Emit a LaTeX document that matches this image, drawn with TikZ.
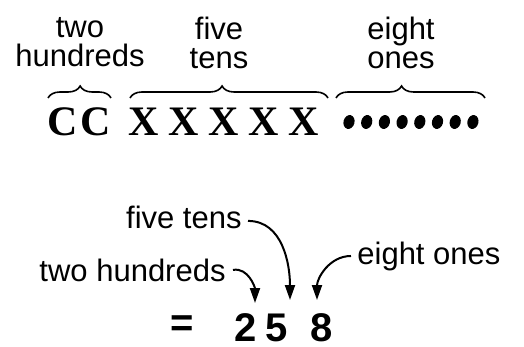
\documentclass[tikz,border=0pt]{standalone}
\usepackage{fontspec}
\setsansfont{Liberation Sans}
\newfontfamily\numfont{Liberation Serif}
\usetikzlibrary{arrows.meta,decorations.pathreplacing,shapes.geometric}

\begin{document}
\begin{tikzpicture}[x=0.5pt,y=0.5pt,
  words/.style={font=\sffamily\fontsize{15.5}{14.5}\selectfont,align=center,inner sep=0},
  numeral/.style={font=\numfont\bfseries\fontsize{21}{21}\selectfont,inner sep=0},
  dot/.style={ellipse,fill,inner sep=0,minimum width=5.5pt,minimum height=7pt,rotate=-15},
  curly/.style={decorate,decoration={brace,amplitude=6pt,aspect=#1},line width=0.8pt},
  pointer/.style={-{Triangle[length=7.5pt,width=5pt]},line width=1pt},
  digit/.style={font=\sffamily\bfseries\fontsize{20}{20}\selectfont,inner sep=0}]
\useasboundingbox (0,0) rectangle (524,-347);

% place values
\node[words,anchor=north] (hund) at (80,-17) {two\\hundreds};
\node[words,anchor=north] (tens) at (219,-17) {five\\tens};
\node[words,anchor=north] (ones) at (401,-17) {eight\\ones};

% the tally
\node[numeral] (c1) at (63,-122) {C};
\node[numeral] (c2) at (96,-122) {C};
\foreach \i/\x in {1/144,2/184,3/224,4/264,5/304}
  \node[numeral] (x\i) at (\x,-122) {X};
\foreach \i in {1,...,8}
  \node[dot] (o\i) at ({349+17.7*(\i-1)},-122) {};

\draw[curly=0.51] (48,-98) -- (111,-98);
\draw[curly=0.465] (130,-98) -- (328,-98);
\draw[curly=0.44] (336,-98) -- (485,-98);

% the numeral
\node[words,anchor=base east] (fivetens) at (242,-228) {five tens};
\node[words,anchor=base east] (twohund) at (226,-281) {two hundreds};
\node[words,anchor=base west] (eightones) at (357,-264) {eight ones};
\node[digit] (eq) at (182,-326) {=};
\node[digit] (d2) at (246,-328) {2};
\node[digit] (d5) at (277,-328) {5};
\node[digit] (d8) at (322,-328) {8};

\coordinate (t2) at (255,-303);
\coordinate (t5) at (290,-300);
\coordinate (t8) at (317,-300);
\draw[pointer] ([xshift=3.5pt]twohund.east) to[out=10,in=90] (t2);
\draw[pointer] ([xshift=3pt,yshift=-2pt]fivetens.east) to[out=0,in=90] (t5);
\draw[pointer] ([xshift=-3pt]eightones.west) to[out=180,in=90] (t8);
\end{tikzpicture}
\end{document}
